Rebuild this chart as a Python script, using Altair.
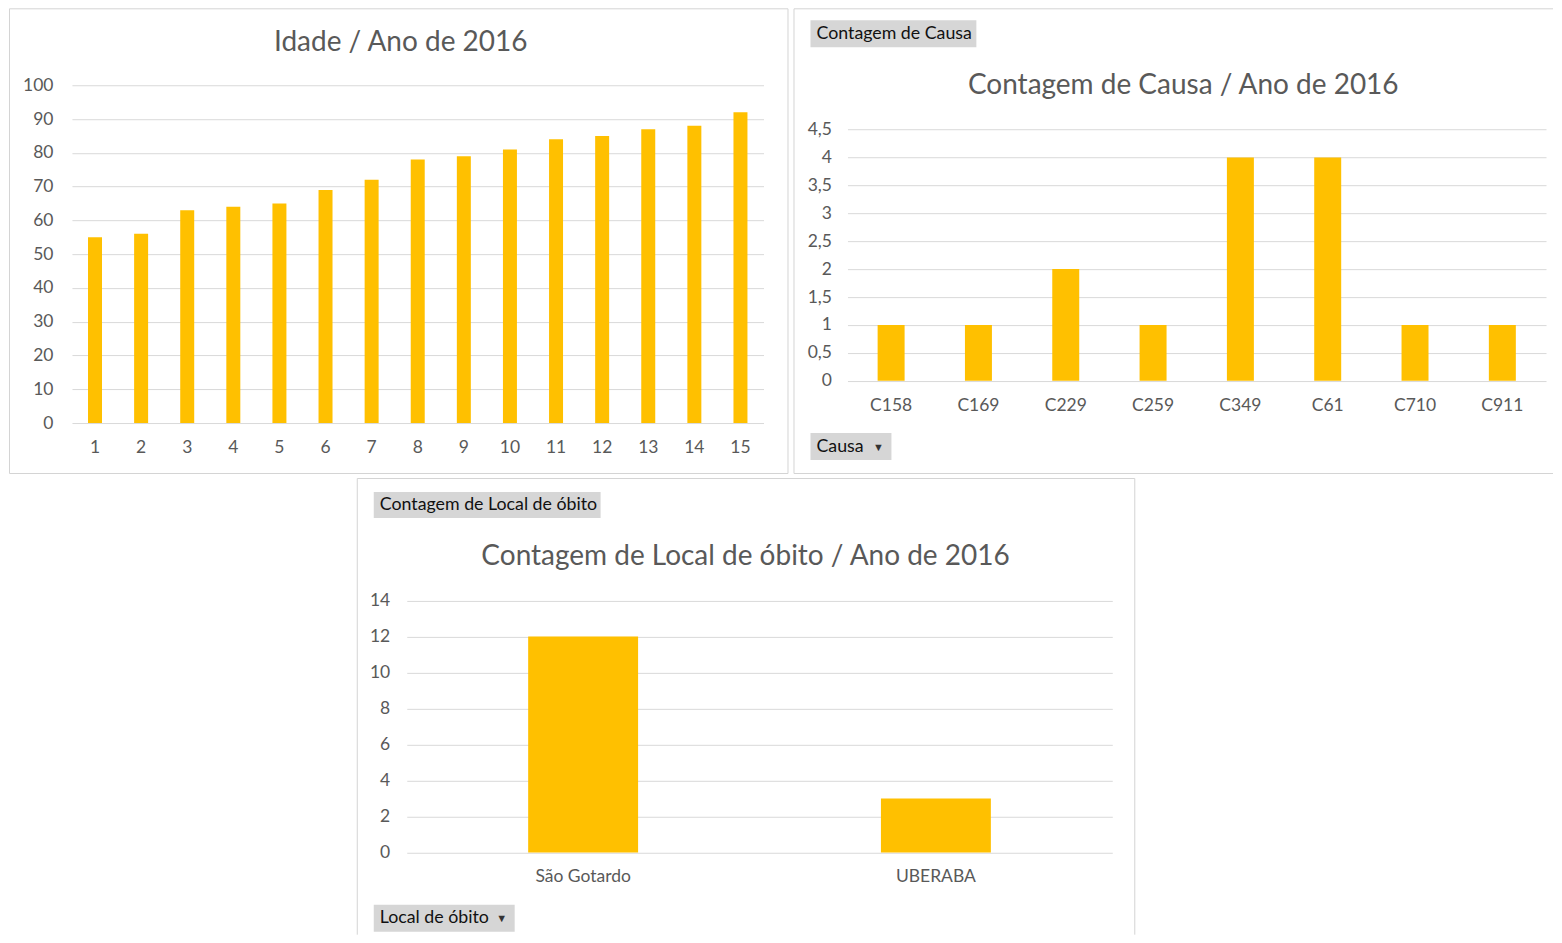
import altair as alt
import pandas as pd

# ---------------- data ----------------
idade_cats = [str(i) for i in range(1, 16)]
idade_vals = [55, 56, 63, 64, 65, 69, 72, 78, 79, 81, 84, 85, 87, 88, 92]
idade_ticks = [0, 10, 20, 30, 40, 50, 60, 70, 80, 90, 100]

causa_cats = ["C158", "C169", "C229", "C259", "C349", "C61", "C710", "C911"]
causa_vals = [1, 1, 2, 1, 4, 4, 1, 1]
causa_ticks = [0, 0.5, 1, 1.5, 2, 2.5, 3, 3.5, 4, 4.5]

local_cats = ["São Gotardo", "UBERABA"]
local_vals = [12, 3]
local_ticks = [0, 2, 4, 6, 8, 10, 12, 14]

titles = ["Idade / Ano de 2016",
          "Contagem de Causa / Ano de 2016",
          "Contagem de Local de óbito / Ano de 2016"]
buttons = ["Contagem de Causa", "Causa", "Contagem de Local de óbito", "Local de óbito"]

# ---------------- style ----------------
W, H = 1546, 927
FONT = "Lato"
GOLD = "#FFC000"
GRID = "#D9D9D9"
TXT = "#595959"
FRAME = "#D4D4D4"
BTN = "#D6D6D6"
LBL = 17.5


def bars(cats, vals, ticks, xr, yr, dom, size, yaxis_right, xlab_y, comma=False):
    df = pd.DataFrame({"cat": cats, "val": vals})
    yaxis = dict(orient="left", offset=-(yaxis_right + 6), values=ticks,
                 labelPadding=6, ticks=False, tickSize=0, domain=False,
                 grid=True, gridColor=GRID, gridWidth=1, title=None,
                 labelFont=FONT, labelFontSize=LBL, labelColor=TXT)
    if comma:
        yaxis["labelExpr"] = "replace(toString(datum.value), '.', ',')"
    return alt.Chart(df).mark_bar(color=GOLD, size=size).encode(
        x=alt.X("cat:N", sort=cats,
                scale=alt.Scale(range=xr, paddingInner=0, paddingOuter=0),
                axis=alt.Axis(orient="bottom", offset=yr[0] - H, title=None,
                              domain=False, ticks=False, tickSize=0, grid=False,
                              labelAngle=0, labelBaseline="middle",
                              labelPadding=xlab_y - yr[0],
                              labelFont=FONT, labelFontSize=LBL, labelColor=TXT)),
        y=alt.Y("val:Q",
                scale=alt.Scale(domain=dom, range=yr, nice=False, zero=True),
                axis=alt.Axis(**yaxis)),
    )


def rect(x, x2, y, y2, fill, stroke=None):
    kw = dict(fill=fill)
    if stroke:
        kw.update(stroke=stroke, strokeWidth=1, fillOpacity=0)
    return alt.Chart(pd.DataFrame({"k": [0]})).mark_rect(**kw).encode(
        x=alt.value(x), x2=alt.value(x2), y=alt.value(y), y2=alt.value(y2))


def rule(x, x2, y, y2):
    return alt.Chart(pd.DataFrame({"k": [0]})).mark_rule(color=FRAME, strokeWidth=1).encode(
        x=alt.value(x), x2=alt.value(x2), y=alt.value(y), y2=alt.value(y2))


def text(s, x, y, size, color, align="left", baseline="middle"):
    return alt.Chart(pd.DataFrame({"t": [s]})).mark_text(
        font=FONT, fontSize=size, color=color, align=align, baseline=baseline
    ).encode(x=alt.value(x), y=alt.value(y), text="t:N")


def button(label, x, x2, y, y2, arrow=False):
    parts = [rect(x, x2, y, y2, BTN), text(label, x + 6, (y + y2) / 2, 17.8, "#111111")]
    if arrow:
        parts.append(text("▼", x2 - 13, (y + y2) / 2 + 1, 11, "#333333", align="center"))
    return parts


# ---------------- frames ----------------
frames = [
    rule(1.5, 780.5, 0.5, 0.5),                              # panel A top
    rule(1.5, 780.5, 465.5, 465.5),                          # panel A bottom
    rule(1.5, 1.5, 0.5, 465.5),                              # panel A left
    rule(780.5, 780.5, 0.5, 465.5),                          # panel A right
    rule(786.5, 1546, 0.5, 0.5),                             # panel B top
    rule(786.5, 1546, 465.5, 465.5),                         # panel B bottom
    rule(786.5, 786.5, 0.5, 465.5),                          # panel B left
    rule(349.5, 1127.5, 470.5, 470.5),                       # panel C top
    rule(349.5, 349.5, 470.5, 927),                          # panel C left
    rule(1127.5, 1127.5, 470.5, 927),                        # panel C right
]

# ---------------- bar panels ----------------
pA = bars(idade_cats, idade_vals, idade_ticks, [64, 756], [415, 77], [0, 100], 14, 45, 439)
pB = bars(causa_cats, causa_vals, causa_ticks, [840, 1539], [372.7, 121.3], [0, 4.5], 27, 824, 397, comma=True)
pC = bars(local_cats, local_vals, local_ticks, [399, 1105], [844.7, 592.7], [0, 14], 110, 382, 869)

# ---------------- titles & buttons ----------------
deco = [
    text(titles[0], 393, 43, 28, TXT, align="center", baseline="alphabetic"),
    text(titles[1], 1176, 86, 28, TXT, align="center", baseline="alphabetic"),
    text(titles[2], 738, 557, 28, TXT, align="center", baseline="alphabetic"),
]
deco += button(buttons[0], 803, 969, 12, 39)
deco += button(buttons[1], 803, 884, 425, 452, arrow=True)
deco += button(buttons[2], 366, 593, 484, 510)
deco += button(buttons[3], 366, 507, 897, 924, arrow=True)

chart = alt.layer(*frames, pA, pB, pC, *deco).resolve_scale(
    x="independent", y="independent"
).properties(width=W, height=H, padding=0).configure_view(strokeWidth=0)

chart.save("out.html", embed_options={"renderer": "svg", "actions": False})
